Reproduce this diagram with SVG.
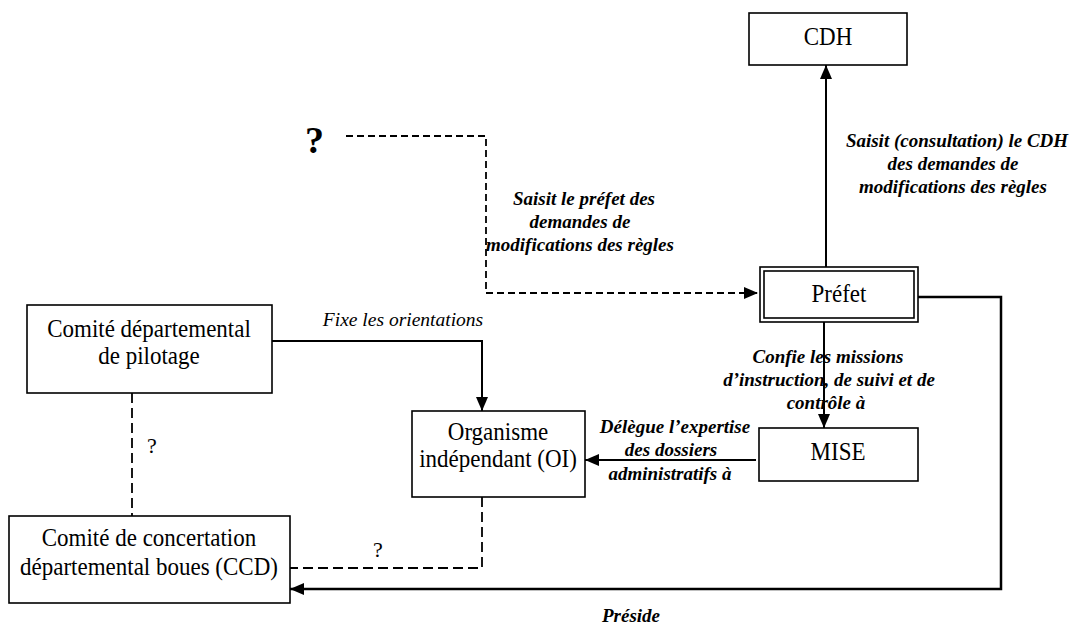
<svg xmlns="http://www.w3.org/2000/svg" width="1071" height="625" viewBox="0 0 1071 625">
  <style>
    .box { fill: #fff; stroke: #000; stroke-width: 1.6; }
    .node { font-family: "Liberation Serif", "Times New Roman", serif; font-size: 23px; fill: #000; text-anchor: middle; }
    .lbl { font-family: "Liberation Serif", "Times New Roman", serif; font-size: 19px; font-weight: bold; font-style: italic; fill: #000; text-anchor: middle; }
    .lbl-it { font-family: "Liberation Serif", "Times New Roman", serif; font-size: 19.5px; font-style: italic; fill: #000; text-anchor: middle; }
    .q { font-family: "Liberation Serif", "Times New Roman", serif; font-size: 22px; fill: #000; }
    .qbig { font-family: "Liberation Serif", "Times New Roman", serif; font-size: 38px; font-weight: bold; fill: #000; }
    .solid { fill: none; stroke: #000; stroke-width: 2; }
    .solid-thick { fill: none; stroke: #000; stroke-width: 2.5; }
    .dash-fine { fill: none; stroke: #000; stroke-width: 1.8; stroke-dasharray: 7 4; }
    .dash-long { fill: none; stroke: #000; stroke-width: 1.8; stroke-dasharray: 10 5; }
  </style>
  <defs>
    <marker id="arrow" viewBox="0 0 14 12" refX="14" refY="6" markerWidth="14" markerHeight="12" markerUnits="userSpaceOnUse" orient="auto">
      <path d="M0,0 L14,6 L0,12 Z" fill="#000"/>
    </marker>
  </defs>

  <rect width="1071" height="625" fill="#fff"/>

  <!-- connectors -->
  <g id="connectors">
    <!-- Préfet to CDH -->
    <path class="solid" d="M826,267 L826,65" marker-end="url(#arrow)"/>
    <!-- unknown actor to Préfet -->
    <path class="dash-fine" d="M346,136 L486,136 L486,293 L758,293" marker-end="url(#arrow)"/>
    <!-- Comité de pilotage to OI -->
    <path class="solid" d="M272,341 L482,341 L482,411" marker-end="url(#arrow)"/>
    <!-- Préfet to MISE -->
    <path class="solid" d="M824,322 L824,428" marker-end="url(#arrow)"/>
    <!-- MISE to OI -->
    <path class="solid" d="M756,460 L585,460" marker-end="url(#arrow)"/>
    <!-- Préfet presides CCD -->
    <path class="solid-thick" d="M918,297 L1001,297 L1001,589 L290,589" marker-end="url(#arrow)"/>
    <!-- uncertain links -->
    <path class="dash-long" d="M132,393 L132,516"/>
    <path class="dash-long" d="M482,497 L482,568 L290,568"/>
  </g>

  <!-- connector labels -->
  <g id="labels">
    <text class="qbig" x="305" y="153">?</text>
    <text class="lbl" x="584" y="205">Saisit le préfet des</text>
    <text class="lbl" x="580" y="228">demandes de</text>
    <text class="lbl" x="580" y="251">modifications des règles</text>

    <text class="lbl" x="957" y="147">Saisit (consultation) le CDH</text>
    <text class="lbl" x="953" y="170">des demandes de</text>
    <text class="lbl" x="953" y="193">modifications des règles</text>

    <text class="lbl-it" x="403" y="326">Fixe les orientations</text>

    <text class="lbl" x="828" y="363">Confie les missions</text>
    <text class="lbl" x="829" y="386">d’instruction, de suivi et de</text>
    <text class="lbl" x="826" y="409">contrôle à</text>

    <text class="lbl" x="675" y="433">Délègue l’expertise</text>
    <text class="lbl" x="671" y="456">des dossiers</text>
    <text class="lbl" x="670" y="480">administratifs à</text>

    <text class="q" x="147" y="453">?</text>
    <text class="q" x="373" y="557">?</text>

    <text class="lbl" x="631" y="622">Préside</text>
  </g>

  <!-- nodes -->
  <g id="node-cdh">
    <rect class="box" x="749" y="13" width="158" height="52"/>
    <text class="node" transform="translate(828,45) scale(1,1.08)">CDH</text>
  </g>

  <g id="node-prefet">
    <rect class="box" x="760" y="267" width="158" height="55"/>
    <rect class="box" x="764" y="271" width="150" height="47"/>
    <text class="node" transform="translate(839,302) scale(1,1.08)">Préfet</text>
  </g>

  <g id="node-mise">
    <rect class="box" x="759" y="428" width="159" height="53"/>
    <text class="node" transform="translate(838,460) scale(1,1.08)">MISE</text>
  </g>

  <g id="node-oi">
    <rect class="box" x="412" y="411" width="173" height="86"/>
    <text class="node" transform="translate(498,440) scale(1,1.08)">Organisme</text>
    <text class="node" transform="translate(498,467) scale(1,1.08)">indépendant (OI)</text>
  </g>

  <g id="node-pilotage">
    <rect class="box" x="27" y="305" width="245" height="88"/>
    <text class="node" transform="translate(149,337) scale(1,1.08)">Comité départemental</text>
    <text class="node" transform="translate(149,364) scale(1,1.08)">de pilotage</text>
  </g>

  <g id="node-ccd">
    <rect class="box" x="9" y="516" width="281" height="87"/>
    <text class="node" transform="translate(149,546) scale(1,1.08)">Comité de concertation</text>
    <text class="node" transform="translate(149,575) scale(1,1.08)">départemental boues (CCD)</text>
  </g>
</svg>
